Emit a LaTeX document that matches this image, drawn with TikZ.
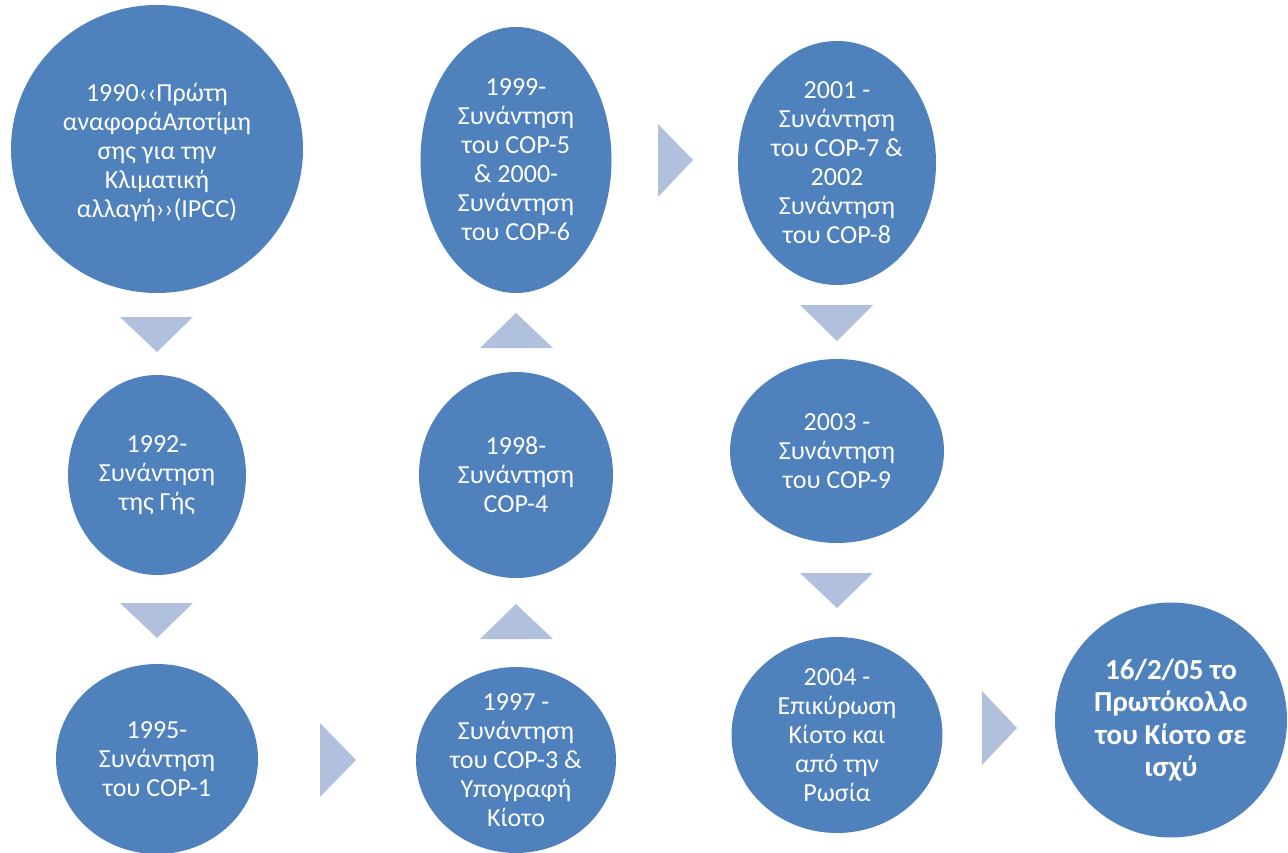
\documentclass[tikz,border=0pt]{standalone}
\usepackage{fontspec}
\setmainfont{Carlito}
\usetikzlibrary{shapes.geometric}
\definecolor{bubblefill}{HTML}{4F81BD}
\definecolor{pointerfill}{HTML}{B1C0DD}
\begin{document}
\begin{tikzpicture}[x=1pt,y=-1pt,
  bubble/.style={ellipse,fill=bubblefill,draw=none,inner sep=0pt,outer sep=0pt},
  bubbletext/.style={text=white,align=center,inner sep=0pt,font=\fontsize{26}{29}\selectfont},
  boldtext/.style={text=white,align=center,inner sep=0pt,font=\fontsize{29}{32.5}\selectfont\bfseries},
  pointer/.style={fill=pointerfill,draw=none}]
\useasboundingbox (0,0) rectangle (1288,853);
\clip (0,0) rectangle (1288,853);

% timeline bubbles
\node[bubble,minimum width=292pt,minimum height=288pt] (b1990) at (157,149) {};
\node[bubble,minimum width=178pt,minimum height=200pt] (b1992) at (157,475) {};
\node[bubble,minimum width=202pt,minimum height=190pt] (b1995) at (157,759) {};
\node[bubble,minimum width=200pt,minimum height=186pt] (b1997) at (516,760) {};
\node[bubble,minimum width=194pt,minimum height=206pt] (b1998) at (516,475) {};
\node[bubble,minimum width=191pt,minimum height=266pt] (b1999) at (516,160) {};
\node[bubble,minimum width=198pt,minimum height=244pt] (b2001) at (837,163) {};
\node[bubble,minimum width=214pt,minimum height=184pt] (b2003) at (837,451) {};
\node[bubble,minimum width=211pt,minimum height=196pt] (b2004) at (837,735) {};
\node[bubble,minimum width=232pt,minimum height=235pt] (b2005) at (1171,720) {};

% bubble captions
\node[bubbletext] (t1990) at ([yshift=-3pt]b1990.center) {1990‹‹Πρώτη\\αναφοράΑποτίμη\\σης για την\\Κλιματική\\αλλαγή››(IPCC)};
\node[bubbletext] (t1992) at (b1992.center) {1992-\\Συνάντηση\\της Γής};
\node[bubbletext] (t1995) at (b1995.center) {1995-\\Συνάντηση\\του COP-1};
\node[bubbletext] (t1997) at (b1997.center) {1997 -\\Συνάντηση\\του COP-3 \&\\Υπογραφή\\Κίοτο};
\node[bubbletext] (t1998) at (b1998.center) {1998-\\Συνάντηση\\COP-4};
\node[bubbletext] (t1999) at (b1999.center) {1999-\\Συνάντηση\\του COP-5\\\& 2000-\\Συνάντηση\\του COP-6};
\node[bubbletext] (t2001) at (b2001.center) {2001 -\\Συνάντηση\\του COP-7 \&\\2002\\Συνάντηση\\του COP-8};
\node[bubbletext] (t2003) at (b2003.center) {2003 -\\Συνάντηση\\του COP-9};
\node[bubbletext] (t2004) at (b2004.center) {2004 -\\Επικύρωση\\Κίοτο και\\από την\\Ρωσία};
\node[boldtext] (t2005) at (b2005.center) {16/2/05 το\\Πρωτόκολλο\\του Κίοτο σε\\ισχύ};

% pointers between bubbles
\fill[pointer] (120,317) -- (193,317) -- (157,352) -- cycle;
\fill[pointer] (120,603) -- (193,603) -- (157,638) -- cycle;
\fill[pointer] (320,723) -- (356,760) -- (320,797) -- cycle;
\fill[pointer] (480,639) -- (553,639) -- (516,604) -- cycle;
\fill[pointer] (480,348) -- (553,348) -- (516,313) -- cycle;
\fill[pointer] (658,124) -- (693,160) -- (658,197) -- cycle;
\fill[pointer] (800,305) -- (873,305) -- (837,341) -- cycle;
\fill[pointer] (800,573) -- (873,573) -- (837,608) -- cycle;
\fill[pointer] (982,691) -- (1017,728) -- (982,765) -- cycle;
\end{tikzpicture}
\end{document}
